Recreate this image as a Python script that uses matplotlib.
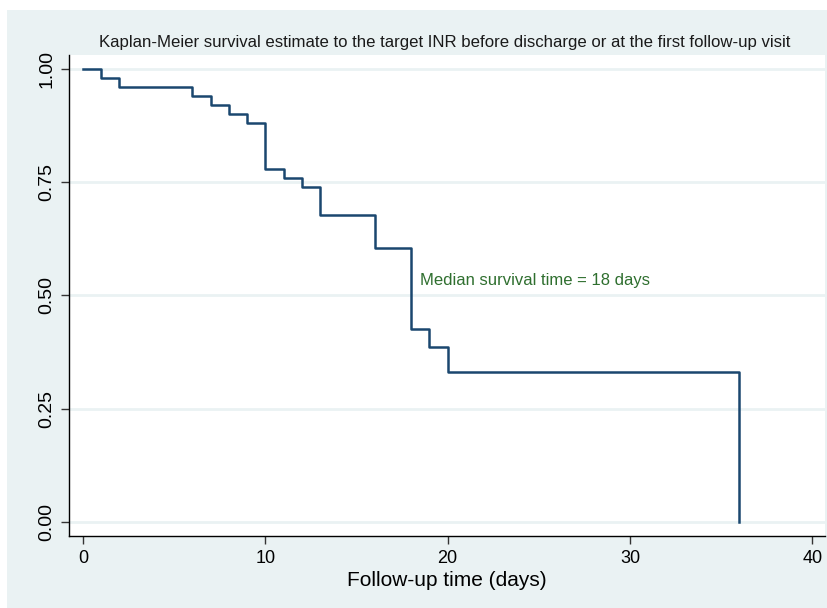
import matplotlib.pyplot as plt
from matplotlib.patches import Rectangle

# Kaplan-Meier step values
times = [0, 1, 2, 6, 7, 8, 9, 10, 11, 12, 13, 16, 18, 19, 20, 36]
surv = [1.0, 0.98, 0.96, 0.94, 0.92, 0.90, 0.88, 0.78, 0.76, 0.74,
        0.677, 0.605, 0.427, 0.387, 0.331, 0.0]
x_ticks = [0, 10, 20, 30, 40]
y_ticks = [0.0, 0.25, 0.50, 0.75, 1.0]
y_labels = ['0.00', '0.25', '0.50', '0.75', '1.00']

FONT = ['Liberation Sans Narrow', 'Liberation Sans', 'DejaVu Sans']

W, H = 827, 608
fig = plt.figure(figsize=(W / 100, H / 100), dpi=100, facecolor='white')

# light Stata-like graph region
fig.patches.append(Rectangle((7 / W, -0.01), 1, 1.01 - 10 / H, transform=fig.transFigure,
                             facecolor='#eaf2f3', edgecolor='none', zorder=-10))

ax = fig.add_axes([69 / W, 1 - 536 / H, (825 - 69) / W, (536 - 55) / H])
ax.set_zorder(5)
ax.set_facecolor('white')

line_color = '#1a476f'
ax.step(times, surv, where='post', color=line_color, linewidth=1.8, zorder=3)

ax.set_xlim(-0.77, 40.7)
ax.set_ylim(-0.031, 1.031)

ax.set_yticks(y_ticks)
ax.set_yticklabels(y_labels, rotation=90, va='center', fontsize=14,
                   family=['Liberation Sans', 'DejaVu Sans'])
ax.set_xticks(x_ticks)
ax.set_xticklabels([str(t) for t in x_ticks], fontsize=13, family=FONT)
ax.tick_params(axis='both', direction='out', length=6, width=1, color='#333333')
ax.tick_params(axis='x', pad=4)
ax.tick_params(axis='y', pad=4)

for yv in y_ticks:
    ax.axhline(yv, color='#eaf2f3', linewidth=2, zorder=1)

for s in ['top', 'right']:
    ax.spines[s].set_visible(False)
for s in ['left', 'bottom']:
    ax.spines[s].set_color('black')
    ax.spines[s].set_linewidth(1)

ax.set_xlabel('Follow-up time (days)', fontsize=15, family=FONT, labelpad=3)

ax.text(18.5, 0.534, 'Median survival time = 18 days', color='#2f6f2f',
        fontsize=12, family=FONT, ha='left', va='center')

fig.text(445 / W, 1 - 42 / H,
         'Kaplan-Meier survival estimate to the target INR before discharge or at the first follow-up visit',
         ha='center', va='center', fontsize=12.1, family=FONT, color='#1a1a1a')

fig.savefig('out.png', dpi=100, facecolor='white')
